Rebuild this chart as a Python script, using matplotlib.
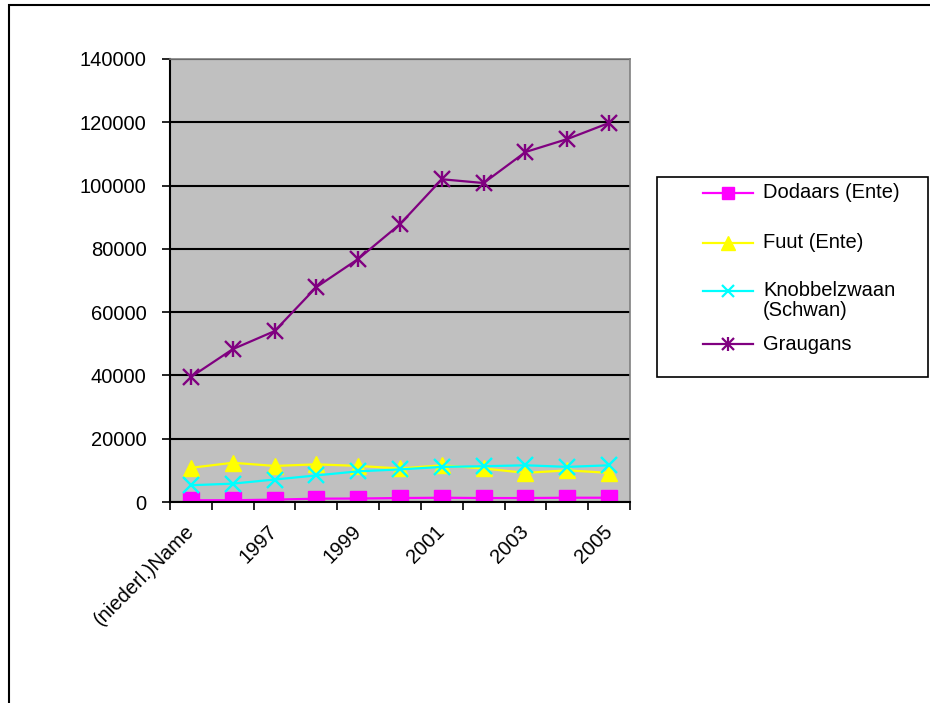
import matplotlib.pyplot as plt
from matplotlib.lines import Line2D
from matplotlib.patches import Rectangle

plt.rcParams['font.family'] = ['Liberation Sans', 'DejaVu Sans']

categories = ["(niederl.)Name", "1996", "1997", "1998", "1999", "2000",
              "2001", "2002", "2003", "2004", "2005"]
dodaars = [550, 550, 750, 1050, 1100, 1250, 1350, 1250, 1250, 1350, 1350]
fuut = [10800, 12400, 11400, 11900, 11400, 10600, 11600, 10600, 9200, 10000, 9200]
knobbel = [5300, 5800, 7100, 8400, 9700, 10300, 11100, 11300, 11600, 11100, 11600]
graugans = [39500, 48300, 54000, 67900, 76800, 87800, 102000, 100800, 110600, 114700, 119800]

series_labels = ["Dodaars (Ente)", "Fuut (Ente)", "Knobbelzwaan\n(Schwan)", "Graugans"]
colors = ["#FF00FF", "#FFFF00", "#00FFFF", "#800080"]

W, H = 930, 703
FS = 14.5
fig = plt.figure(figsize=(W / 100, H / 100), dpi=100)


def fx(px):
    return px / W


def fy(py):
    return 1 - py / H


# outer chart border (cropped on right and bottom)
fig.patches.append(Rectangle((fx(9), -0.1), 1.2, fy(5) + 0.1,
                             transform=fig.transFigure, fill=False,
                             edgecolor="black", linewidth=1.5))

ax = fig.add_axes([fx(170), fy(502), fx(460), 443 / H])
ax.set_facecolor("#C0C0C0")

x = list(range(len(categories)))
ax.plot(x, dodaars, color=colors[0], marker="s", markersize=11, linewidth=1.6)
ax.plot(x, fuut, color=colors[1], marker="^", markersize=12, linewidth=1.6)
ax.plot(x, knobbel, color=colors[2], marker="x", markersize=11,
        markeredgewidth=1.7, linewidth=1.6)
ax.plot(x, graugans, color=colors[3], marker="x", markersize=11,
        markeredgewidth=1.7, linewidth=1.6)
ax.plot(x, graugans, color=colors[3], marker="|", markersize=12,
        markeredgewidth=1.7, linestyle="none")

ax.set_xlim(-0.5, len(categories) - 0.5)
ax.set_ylim(0, 140000)
ax.set_yticks(range(0, 140001, 20000))
ax.yaxis.grid(True, color="black", linewidth=1.5)
ax.set_axisbelow(True)

ax.set_xticks([i - 0.5 for i in range(len(categories) + 1)])
ax.set_xticklabels([])
ax.set_xticks(x[::2], minor=True)
ax.set_xticklabels(categories[::2], minor=True, rotation=45,
                   ha="right", va="center", rotation_mode="anchor", fontsize=FS)
ax.tick_params(axis="x", which="minor", length=0, pad=19)
ax.tick_params(axis="x", which="major", length=6, width=1.2, direction="out")
ax.tick_params(axis="y", length=6, width=1.2, labelsize=FS, pad=11)

for side in ["top", "right"]:
    ax.spines[side].set_color("#808080")
    ax.spines[side].set_linewidth(1.2)
for side in ["left", "bottom"]:
    ax.spines[side].set_color("black")
    ax.spines[side].set_linewidth(1.5)

# legend box drawn by hand to match the original layout
fig.patches.append(Rectangle((fx(657), fy(377)), fx(928 - 657), (377 - 177) / H,
                             transform=fig.transFigure, fill=False,
                             edgecolor="black", linewidth=1.2))
entry_y = [193, 243, 291, 344]
for label, color, ey, i in zip(series_labels, colors, entry_y, range(4)):
    fig.add_artist(Line2D([fx(703), fx(753)], [fy(ey), fy(ey)],
                          transform=fig.transFigure, color=color, linewidth=1.6))
    mx, my = [fx(728)], [fy(ey)]
    if i == 0:
        fig.add_artist(Line2D(mx, my, transform=fig.transFigure, color=color,
                              marker="s", markersize=9))
    elif i == 1:
        fig.add_artist(Line2D(mx, my, transform=fig.transFigure, color=color,
                              marker="^", markersize=10))
    else:
        fig.add_artist(Line2D(mx, my, transform=fig.transFigure, color=color,
                              marker="x", markersize=9, markeredgewidth=1.6))
        if i == 3:
            fig.add_artist(Line2D(mx, my, transform=fig.transFigure, color=color,
                                  marker="|", markersize=10, markeredgewidth=1.6))
    for k, line in enumerate(label.split("\n")):
        fig.text(fx(763), fy(ey + 20 * k), line, fontsize=FS, va="center")

fig.savefig("out.png", dpi=100)
